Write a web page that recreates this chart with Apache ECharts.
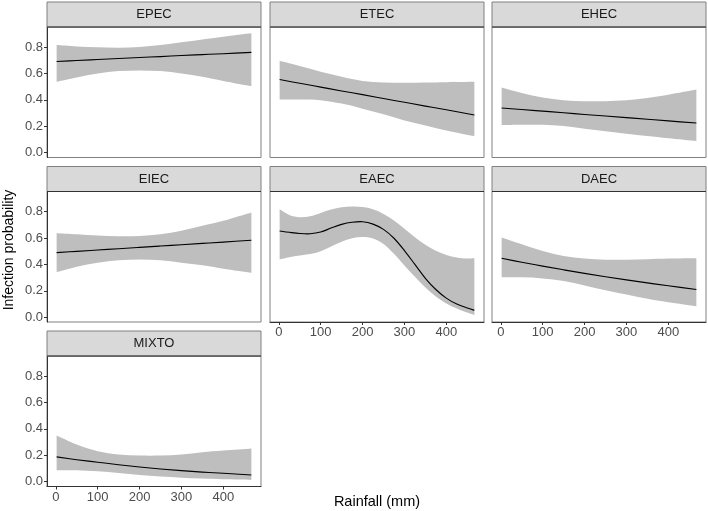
<!DOCTYPE html>
<html>
<head>
<meta charset="utf-8">
<script src="https://cdn.jsdelivr.net/npm/echarts@6/dist/echarts.min.js"></script>
<style>
html,body{margin:0;padding:0;background:#fff;}
#chart{width:708px;height:511px;}
</style>
</head>
<body>
<div id="chart"></div>
<script>
// ---------- data ----------
const panelNames = ['EPEC', 'ETEC', 'EHEC', 'EIEC', 'EAEC', 'DAEC', 'MIXTO'];
const rainfall = [2, 50, 100, 150, 200, 250, 300, 350, 400, 467];
const rainfallEAEC = [2, 25, 50, 75, 100, 125, 150, 175, 200, 225, 250, 275, 300, 325, 350, 375, 400, 425, 450, 467];
const xTicks = [0, 100, 200, 300, 400];
const yTicks = [0, 0.2, 0.4, 0.6, 0.8];

const epecFit   = [0.691, 0.698, 0.706, 0.713, 0.721, 0.728, 0.736, 0.743, 0.750, 0.760];
const epecUpper = [0.815, 0.805, 0.798, 0.795, 0.800, 0.815, 0.836, 0.858, 0.879, 0.904];
const epecLower = [0.537, 0.570, 0.600, 0.618, 0.623, 0.618, 0.600, 0.575, 0.544, 0.504];

const etecFit   = [0.554, 0.526, 0.497, 0.468, 0.440, 0.411, 0.382, 0.353, 0.325, 0.286];
const etecUpper = [0.696, 0.656, 0.613, 0.575, 0.544, 0.532, 0.529, 0.532, 0.534, 0.537];
const etecLower = [0.403, 0.403, 0.398, 0.372, 0.334, 0.291, 0.245, 0.207, 0.169, 0.126];

const ehecFit   = [0.339, 0.327, 0.315, 0.303, 0.290, 0.278, 0.266, 0.254, 0.241, 0.225];
const ehecUpper = [0.494, 0.453, 0.418, 0.397, 0.390, 0.390, 0.397, 0.415, 0.440, 0.479];
const ehecLower = [0.210, 0.212, 0.212, 0.202, 0.182, 0.162, 0.144, 0.126, 0.109, 0.088];

const eiecFit   = [0.489, 0.499, 0.509, 0.519, 0.529, 0.539, 0.549, 0.559, 0.569, 0.583];
const eiecUpper = [0.636, 0.628, 0.618, 0.613, 0.615, 0.628, 0.654, 0.692, 0.730, 0.793];
const eiecLower = [0.342, 0.383, 0.413, 0.431, 0.438, 0.431, 0.413, 0.393, 0.368, 0.337];

const eaecFit   = [0.653, 0.643, 0.634, 0.632, 0.645, 0.675, 0.703, 0.719, 0.723, 0.705, 0.665, 0.598, 0.505, 0.400, 0.295, 0.210, 0.145, 0.100, 0.070, 0.053];
const eaecUpper = [0.818, 0.775, 0.757, 0.765, 0.790, 0.815, 0.832, 0.839, 0.835, 0.818, 0.782, 0.732, 0.670, 0.605, 0.548, 0.503, 0.472, 0.453, 0.445, 0.446];
const eaecLower = [0.438, 0.455, 0.467, 0.478, 0.500, 0.535, 0.572, 0.598, 0.607, 0.596, 0.555, 0.480, 0.392, 0.307, 0.225, 0.158, 0.105, 0.066, 0.035, 0.016];

const daecFit   = [0.446, 0.416, 0.387, 0.359, 0.332, 0.307, 0.283, 0.260, 0.238, 0.210];
const daecUpper = [0.603, 0.552, 0.502, 0.464, 0.444, 0.436, 0.436, 0.439, 0.444, 0.446];
const daecLower = [0.302, 0.302, 0.294, 0.274, 0.241, 0.205, 0.172, 0.140, 0.114, 0.084];

const mixtoFit   = [0.188, 0.167, 0.148, 0.129, 0.112, 0.097, 0.084, 0.073, 0.064, 0.051];
const mixtoUpper = [0.350, 0.282, 0.231, 0.206, 0.198, 0.198, 0.206, 0.224, 0.236, 0.252];
const mixtoLower = [0.087, 0.087, 0.079, 0.067, 0.051, 0.039, 0.031, 0.024, 0.018, 0.013];

// ---------- layout ----------
const colLeft = [47, 270, 492];
const rowTop = [27, 191.5, 356];
const panelW = 214, panelH = 130.5, stripH = 25;
const xMin = -21, xMax = 490;
const yMin = -0.036, yMax = 0.952;
const FONT = '"Liberation Sans", Arial, Helvetica, sans-serif';

const panels = [
  { name: panelNames[0], x: rainfall, fit: epecFit, up: epecUpper, lo: epecLower, col: 0, row: 0, yLab: true, xLab: false },
  { name: panelNames[1], x: rainfall, fit: etecFit, up: etecUpper, lo: etecLower, col: 1, row: 0, yLab: false, xLab: false },
  { name: panelNames[2], x: rainfall, fit: ehecFit, up: ehecUpper, lo: ehecLower, col: 2, row: 0, yLab: false, xLab: false },
  { name: panelNames[3], x: rainfall, fit: eiecFit, up: eiecUpper, lo: eiecLower, col: 0, row: 1, yLab: true, xLab: false },
  { name: panelNames[4], x: rainfallEAEC, fit: eaecFit, up: eaecUpper, lo: eaecLower, col: 1, row: 1, yLab: false, xLab: true },
  { name: panelNames[5], x: rainfall, fit: daecFit, up: daecUpper, lo: daecLower, col: 2, row: 1, yLab: false, xLab: true },
  { name: panelNames[6], x: rainfall, fit: mixtoFit, up: mixtoUpper, lo: mixtoLower, col: 0, row: 2, yLab: true, xLab: true }
];

// Catmull-Rom spline through pixel points -> SVG path commands
function splinePath(pts, moveFirst) {
  let d = (moveFirst ? 'M' : 'L') + pts[0][0] + ' ' + pts[0][1];
  for (let i = 0; i < pts.length - 1; i++) {
    const p0 = pts[Math.max(i - 1, 0)], p1 = pts[i], p2 = pts[i + 1], p3 = pts[Math.min(i + 2, pts.length - 1)];
    const c1x = p1[0] + (p2[0] - p0[0]) / 6, c1y = p1[1] + (p2[1] - p0[1]) / 6;
    const c2x = p2[0] - (p3[0] - p1[0]) / 6, c2y = p2[1] - (p3[1] - p1[1]) / 6;
    d += ' C' + c1x + ' ' + c1y + ' ' + c2x + ' ' + c2y + ' ' + p2[0] + ' ' + p2[1];
  }
  return d;
}

const grids = [], xAxes = [], yAxes = [], series = [], graphics = [];
panels.forEach((p, i) => {
  const left = colLeft[p.col], top = rowTop[p.row];
  grids.push({ left: left, top: top, width: panelW, height: panelH, show: true,
    borderColor: '#808080', borderWidth: 1, backgroundColor: 'transparent', z: 5 });
  xAxes.push({
    type: 'value', gridIndex: i, min: xMin, max: xMax, z: 6,
    axisLine: { show: p.xLab, onZero: false, lineStyle: { color: '#333', width: 1 } },
    axisTick: { show: p.xLab, length: 3, customValues: xTicks, lineStyle: { color: '#333' } },
    axisLabel: { show: p.xLab, customValues: xTicks, margin: 4, fontSize: 13, color: '#4d4d4d', fontFamily: FONT },
    splitLine: { show: false }
  });
  yAxes.push({
    type: 'value', gridIndex: i, min: yMin, max: yMax, z: 6,
    axisLine: { show: p.yLab, onZero: false, lineStyle: { color: '#333', width: 1 } },
    axisTick: { show: p.yLab, length: 3, customValues: yTicks, lineStyle: { color: '#333' } },
    axisLabel: { show: p.yLab, customValues: yTicks, margin: 4, fontSize: 13, color: '#4d4d4d', fontFamily: FONT,
      formatter: v => v.toFixed(1) },
    splitLine: { show: false }
  });
  const rows = p.x.map((xv, k) => [xv, p.fit[k], p.lo[k], p.up[k]]);
  // confidence band (ribbon)
  series.push({
    type: 'custom', xAxisIndex: i, yAxisIndex: i, data: rows, silent: true, z: 2,
    encode: { x: 0, y: [2, 3] },
    renderItem: function (params, api) {
      if (params.dataIndex !== 0) return null;
      const upPts = rows.map(r => api.coord([r[0], r[3]]));
      const loPts = rows.map(r => api.coord([r[0], r[2]])).reverse();
      const d = splinePath(upPts, true) + ' ' + splinePath(loPts, false) + ' Z';
      return { type: 'path', shape: { pathData: d }, style: { fill: '#bebebe', stroke: null } };
    }
  });
  // fitted curve
  series.push({
    type: 'custom', xAxisIndex: i, yAxisIndex: i, data: rows, silent: true, z: 3,
    encode: { x: 0, y: 1 },
    renderItem: function (params, api) {
      if (params.dataIndex !== 0) return null;
      const pts = rows.map(r => api.coord([r[0], r[1]]));
      return { type: 'path', shape: { pathData: splinePath(pts, true) },
        style: { fill: null, stroke: '#000', lineWidth: 1.1 } };
    }
  });
  // facet strip
  graphics.push({ type: 'rect', shape: { x: left, y: top - stripH, width: panelW, height: stripH },
    style: { fill: '#d9d9d9', stroke: '#808080', lineWidth: 1 }, z: 10 });
  graphics.push({ type: 'line', shape: { x1: left, y1: top, x2: left + panelW, y2: top },
    style: { stroke: '#333', lineWidth: 1 }, z: 11 });
  graphics.push({ type: 'text', x: left + panelW / 2, y: top - stripH / 2,
    style: { text: p.name, fontSize: 13, fontFamily: FONT, fill: '#1a1a1a', textAlign: 'center', textVerticalAlign: 'middle' }, z: 12 });
});

graphics.push({ type: 'text', x: 9, y: 250, rotation: Math.PI / 2,
  style: { text: 'Infection probability', fontSize: 14, fontFamily: FONT, fill: '#000', textAlign: 'center', textVerticalAlign: 'middle' }, z: 12 });
graphics.push({ type: 'text', x: 377, y: 502,
  style: { text: 'Rainfall (mm)', fontSize: 14.5, fontFamily: FONT, fill: '#000', textAlign: 'center', textVerticalAlign: 'middle' }, z: 12 });

const chart = echarts.init(document.getElementById('chart'), null, { renderer: 'canvas' });
chart.setOption({
  animation: false,
  backgroundColor: '#fff',
  grid: grids,
  xAxis: xAxes,
  yAxis: yAxes,
  series: series,
  graphic: graphics
});
</script>
</body>
</html>
